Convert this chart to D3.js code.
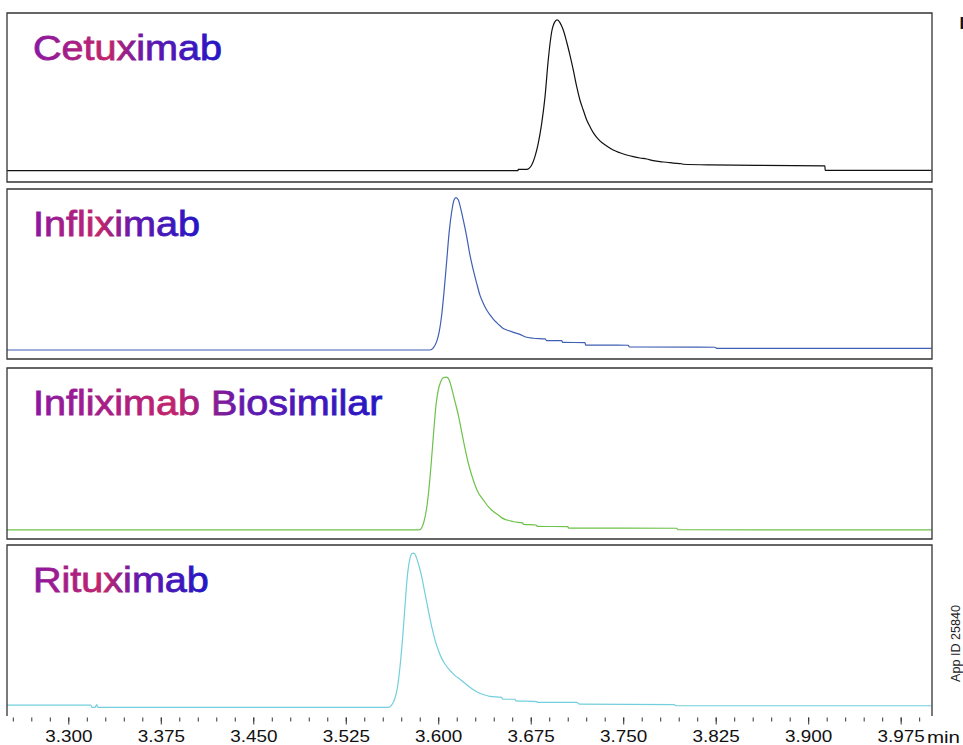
<!DOCTYPE html>
<html><head><meta charset="utf-8">
<script src="https://cdn.jsdelivr.net/npm/d3@7"></script>
<style>body{margin:0;background:#fff}svg{display:block}</style>
</head><body>
<svg id="c" width="963" height="745"></svg>
<script>
// ---------- DATA (time in min, relative signal in % of panel full scale) ----------
const sampleNames = ["Cetuximab", "Infliximab", "Infliximab Biosimilar", "Rituximab"];
const traceColors = ["#111111", "#3f5fb3", "#6cc24a", "#72cfdb"];

const cetuximab = [[3.25,6.7],[3.6647,6.7],[3.6648,7.5],[3.6717,7.5],[3.6758,10.1],[3.6784,15.0],[3.6811,22.9],[3.6839,34.7],[3.6866,50.5],[3.6892,72.2],[3.6920,88.9],[3.6947,94.9],[3.6965,95.9],[3.6987,94.3],[3.7014,89.9],[3.7041,83.0],[3.7068,75.1],[3.7095,66.3],[3.7123,56.4],[3.7149,48.5],[3.7176,42.6],[3.7204,36.7],[3.7231,32.7],[3.7257,29.2],[3.7285,26.4],[3.7311,24.3],[3.7366,21.3],[3.7419,18.9],[3.7474,17.3],[3.7528,16.0],[3.7582,15.0],[3.7636,14.2],[3.7690,13.6],[3.7744,12.6],[3.7798,12.0],[3.7852,11.7],[3.7906,11.2],[3.7974,10.8],[3.7987,10.5],[3.8203,10.1],[3.9136,9.6],[3.9137,6.9],[4.0,6.9]];

const infliximab = [[3.25,5.3],[3.5933,5.3],[3.5960,6.6],[3.5987,10.2],[3.6008,16.1],[3.6028,25.9],[3.6047,39.6],[3.6068,57.2],[3.6089,74.9],[3.6109,86.6],[3.6128,93.5],[3.6144,94.9],[3.6163,93.5],[3.6182,88.6],[3.6203,81.8],[3.6231,71.9],[3.6257,61.2],[3.6284,52.4],[3.6312,44.5],[3.6338,37.6],[3.6365,32.8],[3.6393,28.8],[3.6420,25.9],[3.6446,23.5],[3.6474,21.4],[3.6501,19.6],[3.6527,18.0],[3.6555,17.1],[3.6609,15.7],[3.6663,14.5],[3.6703,13.1],[3.6771,12.2],[3.6866,11.8],[3.6879,10.8],[3.7001,10.8],[3.7009,9.8],[3.7190,9.6],[3.7195,8.2],[3.7541,8.1],[3.7549,7.1],[3.8244,6.9],[3.8258,6.3],[4.0,6.3]];

const infliximabBiosimilar = [[3.25,5.3],[3.5846,5.3],[3.5866,6.6],[3.5884,10.1],[3.5906,18.0],[3.5925,29.6],[3.5944,45.2],[3.5963,62.7],[3.5982,78.4],[3.6000,87.1],[3.6020,92.0],[3.6041,94.3],[3.6068,94.7],[3.6089,93.0],[3.6109,88.1],[3.6136,80.3],[3.6163,72.5],[3.6190,62.7],[3.6217,53.0],[3.6244,44.3],[3.6271,37.4],[3.6298,31.6],[3.6325,27.1],[3.6352,24.2],[3.6379,21.5],[3.6406,18.9],[3.6433,17.0],[3.6460,15.4],[3.6487,14.0],[3.6514,12.5],[3.6541,11.5],[3.6582,10.7],[3.6609,10.1],[3.6685,9.4],[3.6690,8.6],[3.6793,8.2],[3.6803,7.4],[3.7050,7.2],[3.7058,6.4],[3.7933,6.3],[3.7944,5.4],[4.0,5.3]];

const rituximab = [[3.25,6.4],[3.3182,6.4],[3.3192,5.0],[3.3217,5.0],[3.3230,6.6],[3.3241,5.1],[3.5595,5.1],[3.5622,6.4],[3.5649,10.4],[3.5668,16.2],[3.5690,28.8],[3.5712,46.4],[3.5730,63.9],[3.5749,81.5],[3.5771,92.2],[3.5790,95.1],[3.5806,95.1],[3.5825,92.2],[3.5846,87.3],[3.5866,81.5],[3.5892,71.8],[3.5919,62.0],[3.5947,52.2],[3.5974,44.4],[3.6000,38.6],[3.6028,33.7],[3.6055,30.4],[3.6081,27.9],[3.6109,25.6],[3.6136,23.6],[3.6176,21.5],[3.6217,19.1],[3.6257,16.8],[3.6298,14.8],[3.6338,13.3],[3.6379,12.3],[3.6419,11.5],[3.6514,10.9],[3.6522,9.8],[3.6622,9.8],[3.6628,8.9],[3.6798,8.4],[3.6803,8.0],[3.7122,8.0],[3.7144,7.0],[3.7914,6.6],[3.7928,6.0],[4.0,6.0]];

const timeDomain = [3.25, 4.0];
const majorTickValues = [3.300, 3.375, 3.450, 3.525, 3.600, 3.675, 3.750, 3.825, 3.900, 3.975];
const majorTickLabels = ["3.300", "3.375", "3.450", "3.525", "3.600", "3.675", "3.750", "3.825", "3.900", "3.975"];
const axisUnit = "min";
const appId = "App ID 25840";

// ---------- DRAW ----------
const series = [cetuximab, infliximab, infliximabBiosimilar, rituximab];
const svg = d3.select("#c");
const FONT = "'Liberation Sans', Arial, Helvetica, sans-serif";
const L = 7, R = 932;
const tops = [13, 189, 368, 545], bottoms = [182, 359, 539, 716];

const x = d3.scaleLinear().domain(timeDomain).range([6.64, 931.5]);

const defs = svg.append("defs");
const grad = defs.append("linearGradient").attr("id", "tg")
  .attr("x1", 0).attr("x2", 1).attr("y1", 0).attr("y2", 0);
[[0, "#8a18a2"], [0.4, "#c2246c"], [0.6, "#6418ae"], [1, "#2416c6"]].forEach(s =>
  grad.append("stop").attr("offset", s[0]).attr("stop-color", s[1]));

series.forEach((data, i) => {
  const y = d3.scaleLinear().domain([0, 100]).range([bottoms[i], tops[i]]);
  const g = svg.append("g");
  defs.append("clipPath").attr("id", "cp" + i).append("rect")
    .attr("x", L).attr("y", tops[i]).attr("width", R - L).attr("height", bottoms[i] - tops[i]);
  g.append("path").datum(data)
    .attr("clip-path", `url(#cp${i})`)
    .attr("fill", "none").attr("stroke", traceColors[i]).attr("stroke-width", 1.2)
    .attr("d", d3.line().x(d => x(d[0])).y(d => y(d[1])).curve(d3.curveMonotoneX));
  const border = i < 3
    ? `M${L},${bottoms[i]}V${tops[i]}H${R}V${bottoms[i]}Z`
    : `M${L},${bottoms[i]}V${tops[i]}H${R}V${bottoms[i]}`;
  g.append("path").attr("d", border).attr("fill", "none").attr("stroke", "#333").attr("stroke-width", 1.3);
  const t = g.append("text").attr("x", 33).attr("y", tops[i] + 46.5)
    .attr("font-family", FONT).attr("font-size", 35).attr("fill", "url(#tg)")
    .attr("stroke", "url(#tg)").attr("stroke-width", 0.8)
    .text(sampleNames[i]);
  const w = t.node().getComputedTextLength();
  t.attr("textLength", w * 1.13).attr("lengthAdjust", "spacingAndGlyphs");
});

// axis
const axisY = 717.5;
const minorTicks = d3.range(0, 50).map(k => 3.255 + k * 0.015).filter(v => v < 4.0);
const gMinor = svg.append("g").attr("transform", `translate(0,${axisY})`)
  .call(d3.axisBottom(x).tickValues(minorTicks).tickSize(4).tickFormat(""));
const gMajor = svg.append("g").attr("transform", `translate(0,${axisY})`)
  .call(d3.axisBottom(x).tickValues(majorTickValues).tickSize(7).tickPadding(6)
    .tickFormat((d, k) => majorTickLabels[k]));
[gMinor, gMajor].forEach(g => {
  g.select(".domain").remove();
  g.selectAll(".tick line").attr("stroke", "#333");
});
gMajor.selectAll(".tick text").attr("font-family", FONT).attr("font-size", 16).attr("fill", "#111")
  .each(function () {
    const w = this.getComputedTextLength();
    d3.select(this).attr("textLength", w * 1.18).attr("lengthAdjust", "spacingAndGlyphs");
  });

const minT = svg.append("text").attr("x", 927).attr("y", 742.5)
  .attr("font-family", FONT).attr("font-size", 16).attr("fill", "#111").text(axisUnit);
minT.attr("textLength", 33).attr("lengthAdjust", "spacingAndGlyphs");

svg.append("text").attr("transform", "translate(960,682) rotate(-90)")
  .attr("font-family", FONT).attr("font-size", 13).attr("fill", "#222")
  .attr("textLength", 77).attr("lengthAdjust", "spacingAndGlyphs").text(appId);

svg.append("text").attr("x", 959.5).attr("y", 28.5)
  .attr("font-family", FONT).attr("font-size", 17).attr("font-weight", "bold").attr("fill", "#111").text("I");
</script>
</body></html>
